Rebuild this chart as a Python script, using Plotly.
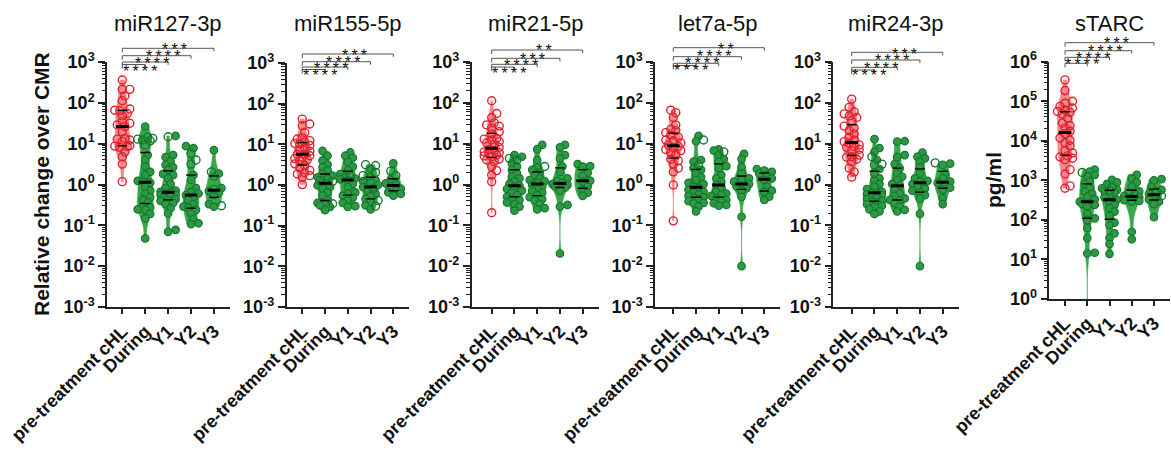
import numpy as np
import plotly.graph_objects as go

W, H = 1171, 451
FONT = "Liberation Sans, Arial, Helvetica, sans-serif"

GROUPS = ["pre-treatment cHL", "During", "Y1", "Y2", "Y3"]
TITLES = ["miR127-3p", "miR155-5p", "miR21-5p", "let7a-5p", "miR24-3p", "sTARC"]

# ---------------- data (log10 values) ----------------
# miR panels: log10(relative change over CMR); sTARC: log10(pg/ml)
# *_FILLED = solid dots, *_OPEN = hollow dots; order = GROUPS
MIR127_FILLED = [
    [],
    [1.42, 0.72, 0.60, 0.44, 0.31, 0.23, 0.09, 0.07, 0.04, -0.05, -0.15, -0.22, -0.31, -0.38, -0.44,
     -0.54, -0.56, -0.61, -0.62, -0.72, -0.83, -1.32],
    [1.19, 0.72, 0.67, 0.56, 0.48, 0.42, 0.36, 0.26, 0.23, 0.15, 0.01, -0.09, -0.15, -0.18, -0.20, -0.22,
     -0.25, -0.26, -0.30, -0.33, -0.36, -0.38, -0.40, -0.45, -0.48, -0.58, -0.71, -1.11, -1.16],
    [0.94, 0.89, 0.23, 0.11, -0.09, -0.18, -0.22, -0.26, -0.30, -0.38, -0.48, -0.54, -0.58, -0.62, -0.71,
     -0.85, -0.95, -0.97],
    [0.84, 0.27, 0.19, -0.09, -0.16, -0.20, -0.26, -0.48, -0.54],
]
MIR127_OPEN = [
    [2.56, 2.33, 2.33, 2.17, 2.05, 1.85, 1.82, 1.81, 1.74, 1.68, 1.54, 1.50, 1.46, 1.42, 1.29, 1.13, 1.11,
     1.09, 1.05, 0.95, 0.94, 0.93, 0.91, 0.80, 0.68, 0.50, 0.07],
    [1.16, 1.13, 1.11, 1.09, 1.07, 0.97],
    [1.17],
    [0.76, 0.60, 0.50],
    [0.31, -0.12, -0.52],
]
MIR127_STARS = ["****", "****", "****", "***"]

MIR155_FILLED = [
    [],
    [0.84, 0.72, 0.60, 0.50, 0.44, 0.36, 0.27, 0.23, 0.19, 0.15, 0.04, -0.01, -0.05, -0.09, -0.18, -0.26,
     -0.38, -0.44, -0.48, -0.50, -0.54, -0.62],
    [0.80, 0.72, 0.67, 0.56, 0.45, 0.36, 0.27, 0.19, 0.16, 0.14, 0.11, 0.03, -0.05, -0.18, -0.22, -0.26,
     -0.31, -0.38, -0.44, -0.52, -0.54],
    [0.40, 0.19, 0.12, 0.09, 0.05, 0.00, -0.05, -0.15, -0.22, -0.28, -0.34, -0.42, -0.50, -0.60],
    [0.53, 0.13, 0.04, 0.01, -0.03, -0.09, -0.13, -0.18, -0.22, -0.26],
]
MIR155_OPEN = [
    [1.62, 1.50, 1.46, 1.29, 1.16, 1.13, 1.09, 1.05, 1.02, 1.01, 0.97, 0.91, 0.86, 0.83, 0.76, 0.75, 0.72,
     0.68, 0.65, 0.62, 0.60, 0.52, 0.48, 0.42, 0.36, 0.30, 0.27, 0.23, 0.19, 0.01],
    [0.11, 0.09, -0.46],
    [0.23],
    [0.50, 0.48, 0.31, 0.23, -0.09, -0.38, -0.52],
    [0.34, 0.23],
]
MIR155_STARS = ["****", "****", "****", "***"]

MIR21_FILLED = [
    [],
    [0.72, 0.68, 0.52, 0.44, 0.36, 0.27, 0.19, 0.15, 0.07, 0.01, -0.03, -0.06, -0.11, -0.15, -0.20, -0.26,
     -0.30, -0.34, -0.38, -0.44, -0.48, -0.54, -0.64],
    [0.97, 0.86, 0.60, 0.42, 0.36, 0.29, 0.23, 0.15, 0.11, 0.08, 0.04, -0.01, -0.05, -0.11, -0.15, -0.20,
     -0.26, -0.31, -0.36, -0.39, -0.48, -0.58, -0.61],
    [0.97, 0.91, 0.72, 0.64, 0.44, 0.31, 0.15, 0.09, 0.04, 0.01, -0.01, -0.03, -0.05, -0.08, -0.15, -0.50,
     -0.54, -1.69],
    [0.50, 0.45, 0.44, 0.29, 0.21, 0.09, 0.07, -0.05, -0.13, -0.20, -0.28],
]
MIR21_OPEN = [
    [2.05, 1.74, 1.64, 1.51, 1.46, 1.43, 1.38, 1.29, 1.24, 1.13, 1.11, 1.09, 1.05, 1.02, 0.97, 0.91, 0.86,
     0.83, 0.80, 0.78, 0.75, 0.72, 0.70, 0.68, 0.62, 0.60, 0.56, 0.44, 0.34, 0.23, 0.07, -0.69],
    [0.64, 0.60],
    [0.44],
    [],
    [],
]
MIR21_STARS = ["****", "****", "***", "**"]

LET7A_FILLED = [
    [],
    [1.19, 1.06, 0.60, 0.56, 0.40, 0.36, 0.26, 0.18, 0.11, 0.04, 0.01, -0.05, -0.09, -0.13, -0.18, -0.20,
     -0.24, -0.28, -0.31, -0.32, -0.36, -0.41, -0.45, -0.46, -0.54, -0.66],
    [0.86, 0.83, 0.72, 0.62, 0.56, 0.45, 0.40, 0.23, 0.15, 0.07, -0.01, -0.09, -0.18, -0.22, -0.25, -0.28,
     -0.34, -0.38, -0.40, -0.46, -0.50, -0.52],
    [0.75, 0.62, 0.42, 0.27, 0.15, 0.11, 0.07, 0.01, -0.03, -0.05, -0.09, -0.15, -0.30, -0.79, -2.00],
    [0.38, 0.34, 0.31, 0.27, 0.23, 0.15, 0.11, -0.05, -0.15, -0.18, -0.30, -0.38],
]
LET7A_OPEN = [
    [1.82, 1.76, 1.64, 1.46, 1.35, 1.32, 1.27, 1.21, 1.16, 1.09, 1.07, 1.02, 0.97, 0.93, 0.91, 0.86, 0.83,
     0.78, 0.72, 0.62, 0.58, 0.50, 0.40, 0.31, -0.01, -0.89],
    [1.09, 0.48],
    [0.80],
    [],
    [],
]
LET7A_STARS = ["****", "****", "****", "**"]

MIR24_FILLED = [
    [],
    [1.11, 0.89, 0.80, 0.60, 0.38, 0.27, 0.15, 0.09, 0.01, -0.05, -0.11, -0.18, -0.20, -0.22, -0.24, -0.26,
     -0.30, -0.33, -0.36, -0.40, -0.42, -0.44, -0.48, -0.52, -0.54, -0.61, -0.66, -0.72],
    [1.06, 1.05, 0.72, 0.67, 0.50, 0.40, 0.27, 0.19, 0.11, 0.01, -0.03, -0.13, -0.22, -0.28, -0.34, -0.38,
     -0.39, -0.46, -0.54, -0.62, -0.66],
    [0.78, 0.68, 0.64, 0.56, 0.42, 0.27, 0.15, 0.09, 0.07, 0.01, -0.05, -0.10, -0.15, -0.20, -0.26, -0.34,
     -0.72, -2.00],
    [0.51, 0.48, 0.27, 0.15, 0.07, 0.04, -0.01, -0.08, -0.13, -0.34, -0.48],
]
MIR24_OPEN = [
    [2.09, 1.89, 1.78, 1.73, 1.68, 1.64, 1.56, 1.43, 1.38, 1.32, 1.24, 1.16, 1.09, 1.05, 1.01, 0.97, 0.93,
     0.91, 0.86, 0.83, 0.72, 0.68, 0.67, 0.62, 0.56, 0.40, 0.31, 0.18],
    [0.68, 0.50, 0.48],
    [],
    [],
    [0.53],
]
MIR24_STARS = ["****", "****", "****", "***"]

# a value below 1 pg/ml (log10 < 0) falls under the axis floor and is not visible as a dot
STARC_FILLED = [
    [],
    [3.27, 3.22, 3.14, 3.10, 2.97, 2.91, 2.80, 2.72, 2.66, 2.59, 2.52, 2.46, 2.42, 2.40, 2.38, 2.34, 2.15,
     2.04, 2.00, 1.79, 1.54, 1.17, 1.15, -0.50],
    [3.01, 2.95, 2.89, 2.80, 2.76, 2.72, 2.69, 2.63, 2.57, 2.51, 2.46, 2.38, 2.30, 2.21, 2.10, 1.93, 1.87,
     1.66, 1.54, 1.39, 1.14],
    [3.14, 3.05, 2.95, 2.84, 2.72, 2.66, 2.61, 2.57, 2.55, 2.52, 2.50, 2.48, 2.46, 1.70, 1.51],
    [3.03, 3.00, 2.83, 2.76, 2.66, 2.59, 2.52, 2.46, 2.40, 2.07],
]
STARC_OPEN = [
    [5.54, 5.27, 5.00, 4.95, 4.87, 4.83, 4.78, 4.74, 4.72, 4.68, 4.57, 4.45, 4.38, 4.32, 4.24, 4.18, 4.07,
     4.01, 3.95, 3.87, 3.75, 3.69, 3.62, 3.59, 3.56, 3.52, 3.27, 3.16, 2.86, 2.80],
    [3.20],
    [2.83, 2.74],
    [2.69],
    [2.72, 2.61],
]
STARC_STARS = ["****", "****", "****", "***"]

PANEL_DATA = [
    (MIR127_FILLED, MIR127_OPEN, MIR127_STARS),
    (MIR155_FILLED, MIR155_OPEN, MIR155_STARS),
    (MIR21_FILLED, MIR21_OPEN, MIR21_STARS),
    (LET7A_FILLED, LET7A_OPEN, LET7A_STARS),
    (MIR24_FILLED, MIR24_OPEN, MIR24_STARS),
    (STARC_FILLED, STARC_OPEN, STARC_STARS),
]

# ---------------- layout / style (pixels) ----------------
# br_y / st_y : bracket line y and star glyph y for comparisons pre vs During, Y1, Y2, Y3
PANEL_GEOM = [
    dict(axis_x=107.0, cat0=122.3, step=22.9, top=62.0, bottom=307.0, yr=(-3, 3), bw=0.22,
         br_y=[64.5, 62.0, 55.7, 48.3], st_y=[67.3, 59.3, 52.7, 45.3]),
    dict(axis_x=286.7, cat0=302.3, step=22.75, top=63.0, bottom=307.0, yr=(-3, 3), bw=0.2,
         br_y=[69.5, 67.0, 61.7, 54.0], st_y=[72.0, 64.7, 58.7, 51.0]),
    dict(axis_x=471.7, cat0=491.7, step=22.75, top=62.0, bottom=307.0, yr=(-3, 3), bw=0.2,
         br_y=[67.0, 64.3, 58.3, 50.0], st_y=[69.0, 61.7, 55.7, 47.0]),
    dict(axis_x=655.0, cat0=673.3, step=22.75, top=62.0, bottom=307.0, yr=(-3, 3), bw=0.2,
         br_y=[65.5, 63.3, 56.7, 47.7], st_y=[66.7, 60.0, 52.3, 45.0]),
    dict(axis_x=833.3, cat0=851.7, step=22.75, top=62.0, bottom=307.0, yr=(-3, 3), bw=0.2,
         br_y=[70.0, 67.3, 60.0, 52.3], st_y=[72.0, 64.3, 56.7, 50.0]),
    dict(axis_x=1049.3, cat0=1065.0, step=22.25, top=61.7, bottom=299.0, yr=(0, 6), bw=0.3,
         br_y=[63.3, 57.3, 50.7, 42.7], st_y=[60.7, 54.3, 47.3, 40.0]),
]

RED_FILL = "rgba(240,112,118,0.82)"
RED_PT = "#e3202b"
GREEN_FILL = "#37a84a"
GREEN_PT_FILL = "#2c9a42"
GREEN_PT_LINE = "#17772f"
AX_COL = "#222222"


def px_x(p):
    return p / W


def px_y(p):
    return 1 - p / H


def swarm_offsets(vals, sx, sy, diam=5.5, maxoff=7.5, stp=2.5):
    vals = np.asarray(vals, float)
    order = np.argsort(vals)
    cands = [0.0]
    k = 1
    while k * stp <= maxoff + 1e-9:
        cands += [k * stp, -k * stp]
        k += 1
    placed = []
    offs = np.zeros(len(vals))
    for idx in order:
        ypx = vals[idx] * sy
        best, best_score = None, None
        for c in cands:
            score = 0.0
            for (qx, qy) in placed:
                d2 = (c - qx) ** 2 + (ypx - qy) ** 2
                if d2 < diam ** 2:
                    score += diam ** 2 - d2
            if score == 0:
                best = c
                break
            if best_score is None or score < best_score:
                best, best_score = c, score
        placed.append((best, ypx))
        offs[idx] = best / sx
    return offs


fig = go.Figure()
shapes = []
annotations = []
layout_axes = {}

for p, ((filled, opened, stars), g) in enumerate(zip(PANEL_DATA, PANEL_GEOM)):
    n = p + 1
    xa = "x" if n == 1 else f"x{n}"
    ya = "y" if n == 1 else f"y{n}"
    sx = g["step"]
    y0, y1 = g["yr"]
    sy = (g["bottom"] - g["top"]) / (y1 - y0)

    x_lo = -(g["cat0"] - g["axis_x"]) / g["step"]
    x_hi = 4.7
    right_px = g["axis_x"] + (x_hi - x_lo) * g["step"]

    for gi in range(5):
        f = np.asarray(filled[gi], float)
        o = np.asarray(opened[gi], float)
        allv = np.concatenate([f, o])
        is_pre = gi == 0
        fc = RED_FILL if is_pre else GREEN_FILL
        fig.add_trace(go.Violin(
            x=[gi] * len(allv), y=allv, xaxis=xa, yaxis=ya, width=0.7,
            spanmode="hard", points=False, fillcolor=fc, bandwidth=g["bw"],
            line=dict(color=fc, width=0.5), box_visible=False, meanline_visible=False,
            hoverinfo="skip", showlegend=False, scalemode="width",
        ))
        offs = swarm_offsets(allv, sx, sy)
        fo = offs[:len(f)]
        oo = offs[len(f):]
        if len(f):
            fig.add_trace(go.Scatter(
                x=gi + fo, y=f, xaxis=xa, yaxis=ya, mode="markers", showlegend=False,
                hoverinfo="skip",
                marker=dict(symbol="circle", size=7.5, color=GREEN_PT_FILL,
                            line=dict(color=GREEN_PT_LINE, width=1.2)),
            ))
        if len(o):
            col = RED_PT if is_pre else GREEN_PT_LINE
            fig.add_trace(go.Scatter(
                x=gi + oo, y=o, xaxis=xa, yaxis=ya, mode="markers", showlegend=False,
                hoverinfo="skip",
                marker=dict(symbol="circle-open", size=8, color=col, line=dict(width=1.4)),
            ))
        q1, med, q3 = np.percentile(allv, [25, 50, 75])
        fig.add_trace(go.Scatter(
            x=[gi, gi], y=[q1, q3], xaxis=xa, yaxis=ya, mode="markers", showlegend=False,
            hoverinfo="skip",
            marker=dict(symbol="line-ew", size=7, line=dict(color="black", width=1.4)),
        ))
        fig.add_trace(go.Scatter(
            x=[gi], y=[med], xaxis=xa, yaxis=ya, mode="markers", showlegend=False,
            hoverinfo="skip",
            marker=dict(symbol="line-ew", size=9, line=dict(color="black", width=3)),
        ))

    # axes
    decades = list(range(y0, y1 + 1))
    minor_vals = [np.log10(m) + d for d in range(y0, y1) for m in range(2, 10)]
    layout_axes["xaxis" if n == 1 else f"xaxis{n}"] = dict(
        domain=[px_x(g["axis_x"]), px_x(right_px)], range=[x_lo, x_hi], anchor=ya,
        tickmode="array", tickvals=list(range(5)), ticktext=GROUPS, tickangle=-45,
        tickfont=dict(family=FONT, size=18, color="#111111", weight="bold"),
        showline=True, linewidth=1.5, linecolor=AX_COL, ticks="outside", ticklen=5,
        tickwidth=1.5, tickcolor=AX_COL, showgrid=False, zeroline=False, automargin=False,
    )
    layout_axes["yaxis" if n == 1 else f"yaxis{n}"] = dict(
        domain=[px_y(g["bottom"]), px_y(g["top"])], range=[y0, y1], anchor=xa,
        tickmode="array", tickvals=decades, ticktext=[f"10<sup>{d}</sup>" for d in decades],
        tickfont=dict(family=FONT, size=18, color="#111111", weight="bold"),
        showline=True, linewidth=1.5, linecolor=AX_COL, ticks="outside", ticklen=7,
        tickwidth=1.5, tickcolor=AX_COL, showgrid=False, zeroline=False, automargin=False,
        minor=dict(tickmode="array", tickvals=minor_vals, ticks="outside", ticklen=3.5,
                   tickwidth=1, tickcolor=AX_COL),
    )

    # title
    annotations.append(dict(
        text=TITLES[p], xref="paper", yref="paper", x=px_x((g["axis_x"] + right_px) / 2),
        y=px_y(23.5), xanchor="center", yanchor="middle", showarrow=False,
        font=dict(family=FONT, size=22, color="#111111"),
    ))

    # significance brackets
    for k in range(1, 5):
        by = g["br_y"][k - 1]
        shapes.append(dict(type="line", xref=xa, yref="paper", x0=0, x1=k,
                           y0=px_y(by), y1=px_y(by), line=dict(color="#555555", width=1)))
        shapes.append(dict(type="line", xref=xa, yref="paper", x0=0, x1=0,
                           y0=px_y(by), y1=px_y(by + 4), line=dict(color="#555555", width=1)))
        shapes.append(dict(type="line", xref=xa, yref="paper", x0=k, x1=k,
                           y0=px_y(by), y1=px_y(by + 3), line=dict(color="#555555", width=1)))
        annotations.append(dict(
            text="\u2009".join(stars[k - 1]), xref=xa, yref="paper", x=k / 2 + 0.3,
            y=px_y(g["st_y"][k - 1] + 4), xanchor="center", yanchor="middle", showarrow=False,
            font=dict(family=FONT, size=16, color="#111111"),
        ))

annotations.append(dict(
    text="<b>Relative change over CMR</b>", xref="paper", yref="paper", x=px_x(41), y=px_y(184),
    xanchor="center", yanchor="middle", textangle=-90, showarrow=False,
    font=dict(family=FONT, size=21, color="#111111"),
))
annotations.append(dict(
    text="<b>pg/ml</b>", xref="paper", yref="paper", x=px_x(993), y=px_y(180),
    xanchor="center", yanchor="middle", textangle=-90, showarrow=False,
    font=dict(family=FONT, size=21, color="#111111"),
))

fig.update_layout(
    template="none", width=W, height=H, margin=dict(l=0, r=0, t=0, b=0),
    paper_bgcolor="white", plot_bgcolor="white", showlegend=False,
    violinmode="overlay", shapes=shapes, annotations=annotations,
    font=dict(family=FONT), **layout_axes,
)

fig.write_html(
    "out.html",
    config={"displayModeBar": False},
    post_script="document.body.style.margin='0';document.body.style.padding='0';"
                "document.documentElement.style.overflow='hidden';",
)
